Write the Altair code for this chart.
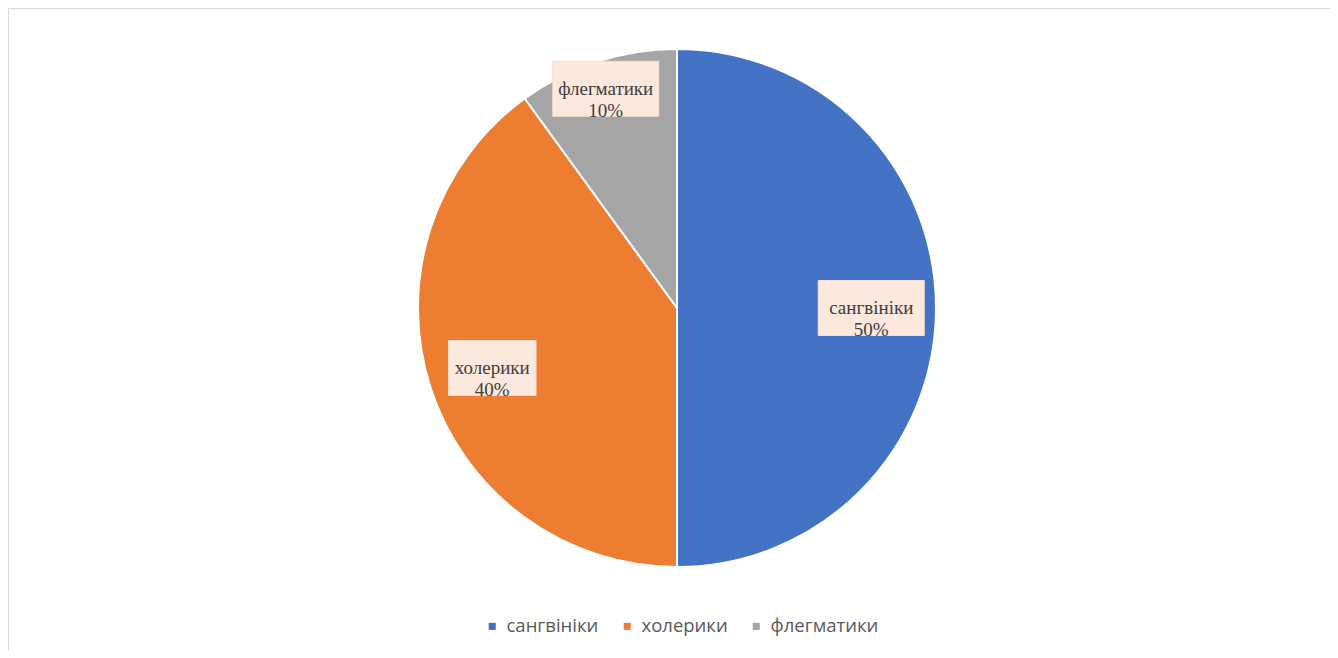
import altair as alt
import pandas as pd

categories = ["сангвініки", "холерики", "флегматики"]
values = [50, 40, 10]
colors = ["#4472c4", "#ed7d31", "#a5a5a5"]

df = pd.DataFrame({"category": categories, "value": values, "idx": list(range(len(categories)))})

CX, CY, R = 669, 300, 259

base = alt.Chart(df)

pie = base.mark_arc(radius=R, stroke="white", strokeWidth=2).encode(
    theta=alt.Theta("value:Q", stack=True),
    order=alt.Order("idx:Q"),
    color=alt.Color(
        "category:N",
        scale=alt.Scale(domain=categories, range=colors),
        legend=alt.Legend(
            title=None,
            orient="none",
            legendX=475,
            legendY=609,
            direction="horizontal",
            symbolType="square",
            symbolSize=50,
            symbolStrokeWidth=0,
            labelFont="Open Sans",
            labelFontSize=18.5,
            labelColor="#595959",
            labelOffset=5,
            columnPadding=19,
        ),
    ),
    x=alt.value(CX),
    y=alt.value(CY),
)

lab = (
    base.transform_joinaggregate(total="sum(value)")
    .transform_window(cum="sum(value)", sort=[alt.SortField("idx")], frame=[None, 0])
    .transform_calculate(
        mid="(datum.cum - datum.value/2)/datum.total*2*PI",
        rf="datum.value/datum.total < 0.15 ? 0.89 : 0.75",
    )
    .transform_calculate(
        lx=f"{CX} + {R}*datum.rf*sin(datum.mid)",
        ly=f"{CY} - {R}*datum.rf*cos(datum.mid)",
        bw="length(datum.category)*9.2 + 14",
        label="datum.category + '\\n' + datum.value + '%'",
    )
    .transform_calculate(
        bx1="datum.lx - datum.bw/2",
        bx2="datum.lx + datum.bw/2",
        by1="datum.ly - 27.5",
        by2="datum.ly + 27.5",
    )
)

boxes = lab.mark_rect(fill="#fce8dc", stroke="#f5dfd0", strokeWidth=1).encode(
    x=alt.X("bx1:Q", scale=None, axis=None),
    x2="bx2:Q",
    y=alt.Y("by1:Q", scale=None, axis=None),
    y2="by2:Q",
)

texts = lab.mark_text(
    font="Liberation Serif", fontSize=19, lineBreak="\n", lineHeight=22,
    color="#404040", baseline="middle", align="center",
).encode(
    x=alt.X("lx:Q", scale=None, axis=None),
    y=alt.Y("ly:Q", scale=None, axis=None),
    text="label:N",
)

chart = (
    alt.layer(pie, boxes, texts)
    .properties(width=1322, height=642, padding=0, autosize=alt.AutoSizeParams(type="none"))
    .configure_view(stroke="#d9d9d9", strokeWidth=1)
)

chart.save("out.html", embed_options={"renderer": "svg", "actions": False})
